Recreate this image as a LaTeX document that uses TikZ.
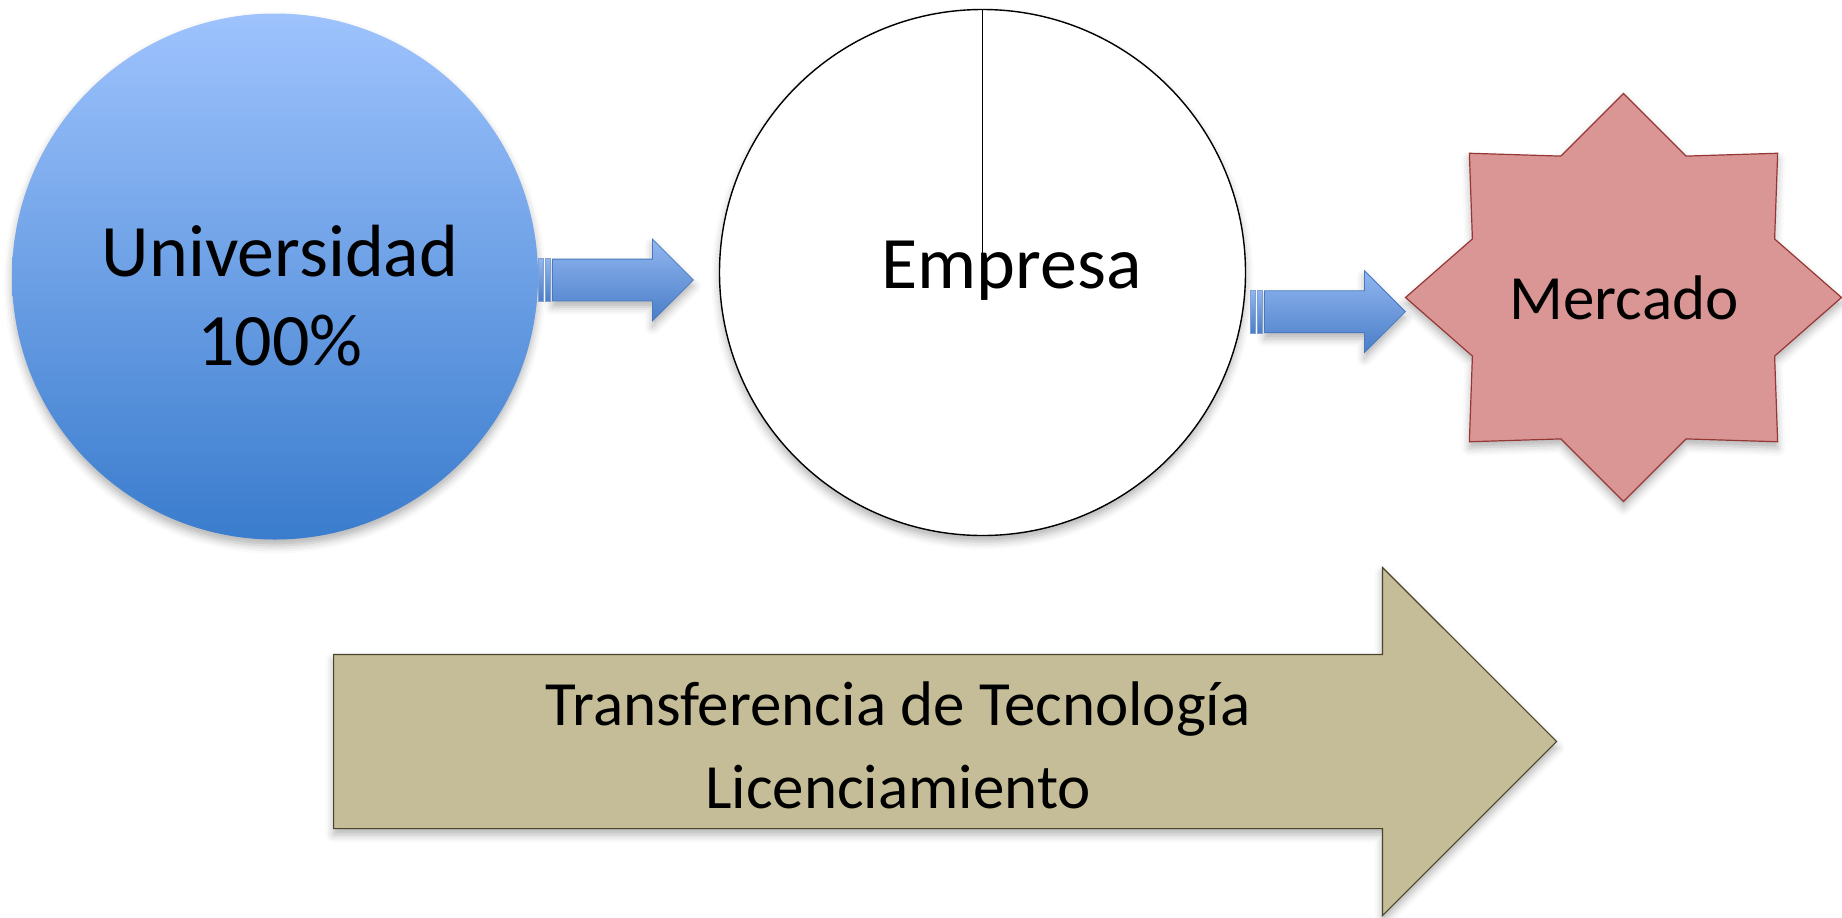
\documentclass[tikz,border=0pt]{standalone}
\usepackage{fontspec}
\setmainfont{Carlito}
\usetikzlibrary{shapes.geometric,shapes.arrows,shadows.blur}

\definecolor{unitop}{RGB}{158,195,253}
\definecolor{unibot}{RGB}{58,124,205}
\definecolor{flowtop}{RGB}{145,182,240}
\definecolor{flowbot}{RGB}{74,126,200}
\definecolor{flowline}{RGB}{72,120,190}
\definecolor{mercadofill}{RGB}{217,150,148}
\definecolor{mercadoline}{RGB}{150,55,53}
\definecolor{tecfill}{RGB}{196,189,151}
\definecolor{tecline}{RGB}{74,69,42}

\tikzset{%
  soft shadow/.style={
    blur shadow={shadow xshift=0pt, shadow yshift=-3pt,
      shadow blur radius=4pt, shadow opacity=30}
  },
  every actor/.style={
    inner sep=0pt,
    outer sep=0pt,
    soft shadow
  },
  universidad/.style={
    every actor,
    circle,
    minimum size=263pt,
    top color=unitop,
    bottom color=unibot
  },
  empresa/.style={
    every actor,
    circle,
    minimum size=263pt,
    draw=black,
    line width=0.7pt,
    fill=white
  },
  mercado/.style={
    every actor,
    star,
    star points=8,
    star point ratio=1.333,
    minimum size=204pt,
    xscale=1.0686,
    fill=mercadofill,
    draw=mercadoline,
    line width=0.6pt
  },
  flow arrow/.style={
    single arrow,
    anchor=tail,
    inner xsep=0pt,
    inner ysep=10.25pt,
    soft shadow,
    top color=flowtop,
    bottom color=flowbot,
    draw=flowline,
    line width=0.4pt,
    minimum height=70.5pt,
    single arrow head extend=10pt
  },
  flow stripe/.style={
    top color=flowtop,
    bottom color=flowbot,
    draw=flowline!70!white,
    line width=0.3pt
  },
  big arrow/.style={
    single arrow,
    anchor=tail,
    inner xsep=0pt,
    inner ysep=43.25pt,
    soft shadow,
    fill=tecfill,
    draw=tecline,
    line width=0.6pt,
    minimum height=611.5pt,
    single arrow head extend=43.5pt
  },
  big label/.style={
    align=center,
    anchor=base,
    font=\fontsize{37}{44.5}\selectfont
  },
  small label/.style={
    align=center,
    anchor=base,
    font=\fontsize{31.5}{41.5}\selectfont
  },
}

\begin{document}
\begin{tikzpicture}[x=0.5pt, y=-0.5pt]

\useasboundingbox (0,0) rectangle (1842,917);

% the three actors
\node [universidad] (universidad) at (275,276.5) {};
\node [empresa] (empresa) at (982.5,272.5) {};
\node [mercado] (mercado) at (1623.5,297.5) {};

\coordinate (empresa-cut) at (983,300);
\draw [line width=0.7pt] (empresa.north) -- (empresa.north |- empresa-cut);

% striped arrows between them
\node [flow arrow] (flow-1) at (552,280) {};
\node [flow arrow] (flow-2) at (1264,311.7) {};

\foreach \a in {flow-1,flow-2} {
  \draw [flow stripe] ([xshift=-6.75pt]\a.before tail) rectangle ([xshift=-4.25pt]\a.after tail);
  \draw [flow stripe] ([xshift=-3.5pt]\a.before tail) rectangle ([xshift=-0.75pt]\a.after tail);
}

% transfer arrow
\node [big arrow] (transferencia) at (333,741.5) {};

% texts (base = last line)
\node [big label] (universidad-text) at (280,365) {Universidad\\100\%};
\node [big label] (empresa-text) at (1011.7,288.3) {Empresa};
\node [small label] (mercado-text) at (1624,319) {Mercado};
\node [small label] (transferencia-text) at (898,808) {Transferencia de Tecnología\\Licenciamiento};

\end{tikzpicture}
\end{document}
